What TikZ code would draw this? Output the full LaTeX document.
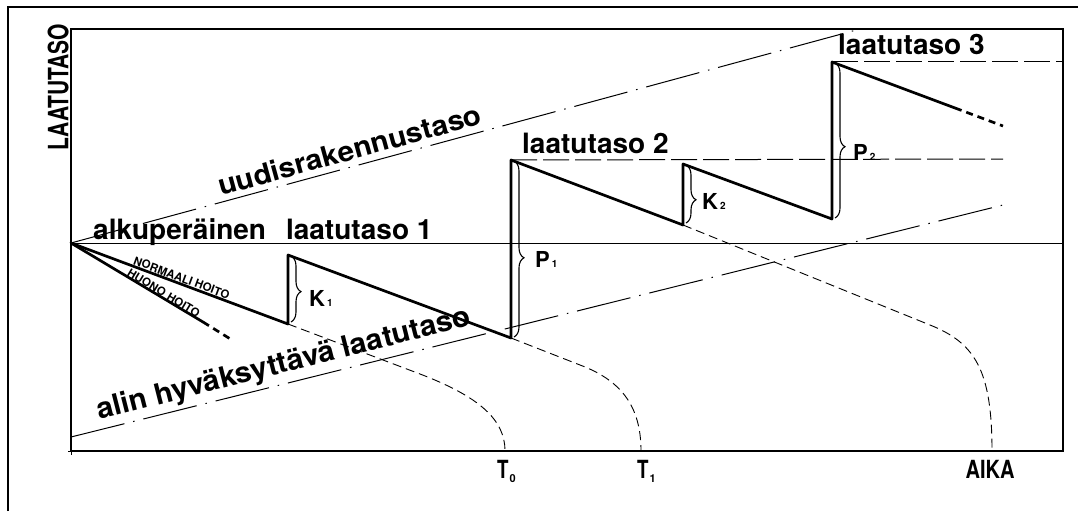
\documentclass[tikz,border=0pt]{standalone}
\usepackage{fontspec}
\setmainfont{TeX Gyre Heros}
\usetikzlibrary{decorations.pathreplacing}
\newcommand\smallsub[1]{{\fontsize{10}{10}\selectfont #1}}
\newcommand\tsub[1]{\raisebox{-4pt}{\fontsize{11}{11}\selectfont #1}}
\begin{document}
\begin{tikzpicture}[x=1pt,y=-1pt,
  frame/.style={line width=1.2pt},
  thinline/.style={line width=0.9pt},
  saw/.style={line width=2.7pt, line join=round, line cap=round},
  sawdash/.style={line width=2.7pt, dash pattern=on 7pt off 5pt},
  dashdot/.style={line width=1pt, dash pattern=on 55pt off 9pt on 1.5pt off 9pt},
  leveldash/.style={line width=1pt, dash pattern=on 26pt off 6pt},
  decay/.style={line width=0.9pt, dash pattern=on 9pt off 5pt},
  bracestyle/.style={line width=1.1pt, decorate, decoration={brace, amplitude=10pt, aspect=#1}},
  big/.style={font=\fontsize{28}{28}\selectfont\bfseries, inner sep=0pt},
  bigger/.style={font=\fontsize{29}{29}\selectfont\bfseries, inner sep=0pt},
  small/.style={font=\fontsize{11.5}{11.5}\selectfont\bfseries, inner sep=0pt},
  lab/.style={font=\fontsize{22}{22}\selectfont\bfseries, inner sep=0pt},
  axlab/.style={font=\fontsize{25}{25}\selectfont\bfseries, inner sep=0pt},
]
\fill[white] (0,0) rectangle (1078,511);
\useasboundingbox (0,0) rectangle (1078,511);

% key points
\coordinate (O) at (71,243);
\coordinate (L1e) at (1063,243);
\coordinate (U0) at (71,243);
\coordinate (U1) at (860,29);
\coordinate (M0) at (71,437);
\coordinate (M1) at (1003,205);
\coordinate (H1) at (203,322);
\coordinate (H2) at (232,340);
\coordinate (K1b) at (288,324);
\coordinate (K1t) at (288,255);
\coordinate (P1b) at (511,338);
\coordinate (P1t) at (511,160);
\coordinate (K2b) at (683,225);
\coordinate (K2t) at (683,164);
\coordinate (P2b) at (832,219);
\coordinate (P2t) at (832,62);
\coordinate (S1) at (955,108);
\coordinate (S2) at (1003,126);
\coordinate (L2e) at (1003,159);
\coordinate (L3e) at (1063,62);
\coordinate (T0) at (505,451);
\coordinate (T1) at (641,451);
\coordinate (TA) at (992,451);

% frames
\draw[frame] (8,511) -- (8,7) -- (1078,7);
\draw[frame] (71,29) rectangle (1063,451);
\draw[thinline] (68,451) -- (71,451) -- (71,455);

% reference lines
\draw[thinline] (O) -- (L1e);
\draw[dashdot] (U0) -- (U1);
\draw[dashdot] (M0) -- (M1);
\draw[leveldash] (P1t) -- (L2e);
\draw[leveldash] (P2t) -- (L3e);

% decay curves
\draw[decay] (K1b) -- (420,374) .. controls (480,397) and (505,420) .. (T0);
\draw[decay] (P1b) -- (580,365) .. controls (620,380) and (641,405) .. (T1);
\draw[decay] (K2b) -- (930,325) .. controls (975,343) and (992,370) .. (TA);

% sawtooth
\draw[saw] (O) -- (H1);
\draw[sawdash] (H1) -- (H2);
\draw[saw] (O) -- (K1b) -- (K1t) -- (P1b) -- (P1t) -- (K2b) -- (K2t) -- (P2b) -- (P2t) -- (S1);
\draw[sawdash] (S1) -- (S2);

% braces
\draw[bracestyle=0.54] (291,256) -- (291,322);
\draw[bracestyle=0.55] (514,161) -- (514,337);
\draw[bracestyle=0.6] (686,165) -- (686,223);
\draw[bracestyle=0.54] (835,63) -- (835,218);

% labels
\node[big, anchor=base west] (t1) at (93,239) {alkuperäinen\hspace{20pt}laatutaso 1};
\node[big, anchor=base west] (t2) at (522,153) {laatutaso 2};
\node[big, anchor=base west] (t3) at (838,55) {laatutaso 3};
\node[big, anchor=base west, rotate=15.4] (tu) at (221,196) {\scalebox{1.06}[1]{uudisrakennustaso}};
\node[bigger, anchor=base west, rotate=14.3] (ta) at (99,420) {\scalebox{1.03}[1]{alin hyväksyttävä laatutaso}};
\path (O) -- (K1b) node[small, sloped, pos=0.5, above=1.5pt] (tn) {NORMAALI HOITO};
\path (O) -- (H2) node[small, sloped, pos=0.56, above=0.5pt] (th) {HUONO HOITO};

\node[lab, anchor=base west] (k1) at (309,306) {K\kern2pt\smallsub{1}};
\node[lab, anchor=base west] (p1) at (535,267) {P\kern2pt\smallsub{1}};
\node[lab, anchor=base west] (k2) at (702,209) {K\kern2pt\smallsub{2}};
\node[lab, anchor=base west] (p2) at (853,160) {P\kern2pt\smallsub{2}};

\node[font=\fontsize{28}{28}\selectfont\bfseries, inner sep=0pt, rotate=90, anchor=south] (ylab) at (69,87) {\scalebox{0.75}[1]{LAATUTASO}};
\node[axlab] (xlab) at (990,469) {\scalebox{0.8}[1]{AIKA}};
\node[axlab, anchor=base west] (t0l) at (497,478) {\scalebox{0.75}[1]{T}\kern1pt\tsub{0}};
\node[axlab, anchor=base west] (t1l) at (637,478) {\scalebox{0.75}[1]{T}\kern1pt\tsub{1}};
\end{tikzpicture}
\end{document}
